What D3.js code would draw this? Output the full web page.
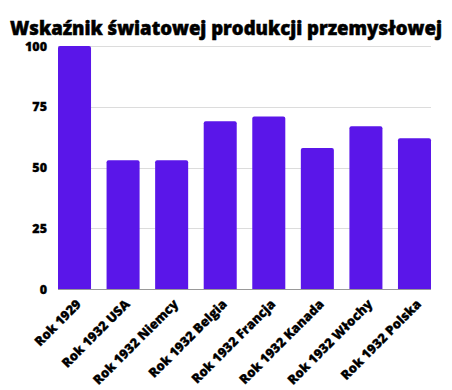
<!DOCTYPE html>
<html>
<head>
<meta charset="utf-8">
<script src="https://cdn.jsdelivr.net/npm/d3@7"></script>
<style>
  body { margin: 0; background: #fff; }
  text { font-family: "Open Sans", sans-serif; font-weight: 800; fill: #000; stroke: #000; stroke-width: 0.3px; }
  .title { stroke-width: 0.5px; }
  .grid line { stroke: #dcdcdc; stroke-width: 1; }
</style>
</head>
<body>
<div id="chart"></div>
<script>
(function () {
  'use strict';

  // data
  var categories = ["Rok 1929", "Rok 1932 USA", "Rok 1932 Niemcy", "Rok 1932 Belgia",
    "Rok 1932 Francja", "Rok 1932 Kanada", "Rok 1932 Włochy", "Rok 1932 Polska"];
  var values = [100, 53, 53, 69, 71, 58, 67, 62];
  var yTicks = [0, 25, 50, 75, 100];
  var title = "Wskaźnik światowej produkcji przemysłowej";

  var width = 452, height = 390;
  var padLeft = 58, padRight = 21, padTop = 46, padBottom = 101;

  var svg = d3.select("#chart").append("svg")
    .attr("width", width)
    .attr("height", height);

  var x = d3.scaleBand()
    .domain(categories)
    .range([padLeft, width - padRight])
    .paddingInner(0.32)
    .paddingOuter(0);

  var y = d3.scaleLinear()
    .domain([0, 100])
    .range([height - padBottom, padTop]);

  // title, shrunk to fit the same width as the original (~434px)
  var titleT = svg.append("text")
    .attr("class", "title")
    .attr("x", width / 2)
    .attr("y", 35)
    .attr("text-anchor", "middle")
    .style("font-size", "20px")
    .text(title);
  var tw = titleT.node().getComputedTextLength();
  titleT.style("font-size", (20 * 432 / tw) + "px");

  // gridlines
  svg.append("g")
    .attr("class", "grid")
    .selectAll("line")
    .data(yTicks.filter(function (d) { return d > 0; }))
    .enter().append("line")
    .attr("x1", padLeft).attr("x2", width - padRight)
    .attr("y1", function (d) { return Math.round(y(d)) + 0.5; })
    .attr("y2", function (d) { return Math.round(y(d)) + 0.5; });

  // y labels
  svg.append("g")
    .selectAll("text")
    .data(yTicks)
    .enter().append("text")
    .attr("x", 47)
    .attr("y", function (d) { return y(d) + 4.5; })
    .attr("text-anchor", "end")
    .style("font-size", "12.5px")
    .text(function (d) { return d; });

  // bars (rounded top corners)
  svg.append("g")
    .selectAll("path")
    .data(values)
    .enter().append("path")
    .attr("fill", "#5a16e9")
    .attr("d", function (d, i) {
      var x0 = x(categories[i]), w = x.bandwidth();
      var y0 = y(d), y1 = y(0), r = 2;
      return "M" + x0 + "," + y1 +
        "V" + (y0 + r) +
        "Q" + x0 + "," + y0 + " " + (x0 + r) + "," + y0 +
        "H" + (x0 + w - r) +
        "Q" + (x0 + w) + "," + y0 + " " + (x0 + w) + "," + (y0 + r) +
        "V" + y1 + "Z";
    });

  // baseline
  svg.append("line")
    .attr("x1", padLeft).attr("x2", width - padRight)
    .attr("y1", Math.round(y(0)) + 0.5).attr("y2", Math.round(y(0)) + 0.5)
    .attr("stroke", "#999");

  // x labels, rotated
  svg.append("g")
    .selectAll("text")
    .data(categories)
    .enter().append("text")
    .attr("text-anchor", "end")
    .style("font-size", "13px")
    .attr("transform", function (d) {
      var cx = x(d) + x.bandwidth() / 2 + 7.5;
      return "translate(" + cx + "," + (y(0) + 16) + ") rotate(-45)";
    })
    .text(function (d) { return d; });
})();
</script>
</body>
</html>
